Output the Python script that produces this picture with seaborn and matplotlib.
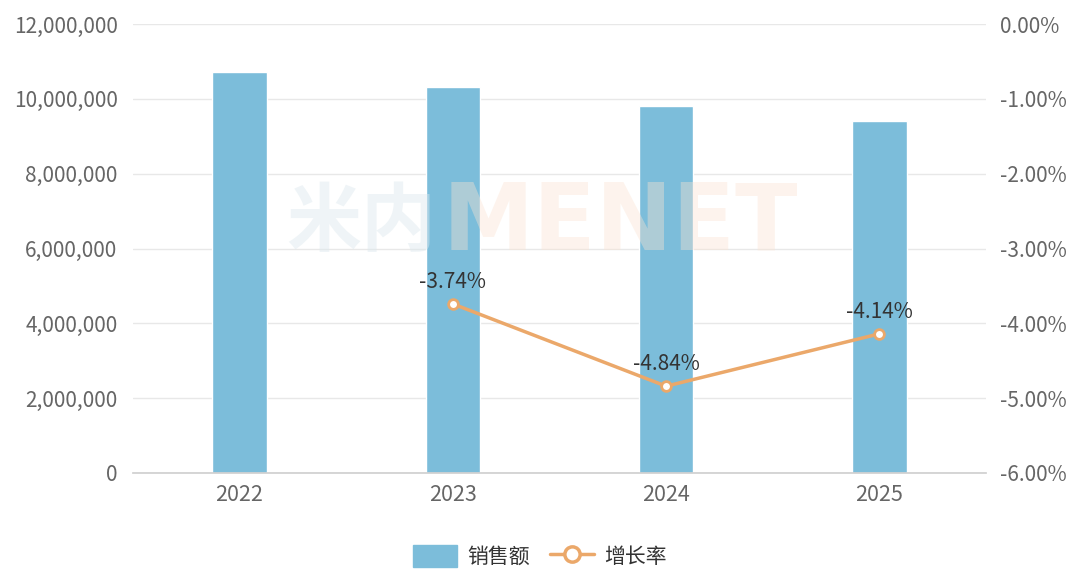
import matplotlib
matplotlib.use("Agg")
import matplotlib.pyplot as plt
import seaborn as sns
import pandas as pd
import numpy as np
from matplotlib.ticker import FuncFormatter, FixedLocator
from matplotlib.lines import Line2D
from matplotlib.patches import Patch

years = ["2022", "2023", "2024", "2025"]
sales = [10720000, 10319000, 9820000, 9413000]
growth_years = ["2023", "2024", "2025"]
growth = [-3.74, -4.84, -4.14]

sns.set_theme(style="white")
plt.rcParams['font.family'] = ['Noto Sans CJK SC', 'DejaVu Sans']

BAR = "#7CBDDA"
LINE = "#EBA86A"
TXT = "#666666"
GRID = "#E8E8E8"

fig = plt.figure(figsize=(10.8, 5.8), dpi=100)
ax = fig.add_axes([0.123, 0.1845, 0.790, 0.7741])

df = pd.DataFrame({"year": years, "sales": sales})
sns.barplot(data=df, x="year", y="sales", color=BAR, saturation=1, width=0.255, ax=ax, zorder=2)
ax.set_xlim(-0.5, 3.5)
ax.set_ylim(0, 12000000)
ax.yaxis.set_major_locator(FixedLocator(np.arange(0, 12000001, 2000000)))
ax.yaxis.set_major_formatter(FuncFormatter(lambda v, p: f"{int(v):,}"))
ax.grid(axis="y", color=GRID, linewidth=1, zorder=0)
ax.set_axisbelow(True)
for s in ["top", "right", "left"]:
    ax.spines[s].set_visible(False)
ax.spines["bottom"].set_color("#D0D0D0")
ax.tick_params(axis="y", length=0, labelsize=15, colors=TXT, pad=11)
ax.tick_params(axis="x", length=0, labelsize=15.5, colors=TXT, pad=8)
ax.set_xlabel("")
ax.set_ylabel("")

ax2 = ax.twinx()
pos = [years.index(y) for y in growth_years]
gdf = pd.DataFrame({"x": pos, "g": growth})
sns.lineplot(data=gdf, x="x", y="g", color=LINE, linewidth=2.5, marker="o",
             markersize=7, markerfacecolor="white", markeredgecolor=LINE,
             markeredgewidth=2, ax=ax2, zorder=4)
ax2.set_ylim(-6, 0)
ax2.yaxis.set_major_locator(FixedLocator(np.arange(-6, 0.01, 1)))
ax2.yaxis.set_major_formatter(FuncFormatter(lambda v, p: f"{v:.2f}%"))
for s in ["top", "right", "left", "bottom"]:
    ax2.spines[s].set_visible(False)
ax2.tick_params(axis="y", length=0, labelsize=15, colors=TXT, pad=10)
ax2.set_xlabel("")
ax2.set_ylabel("")
ax2.set_xlim(-0.5, 3.5)
for x, g in zip(pos, growth):
    ax2.annotate(f"{g:.2f}%", (x, g), xytext=(0, 8), textcoords="offset points",
                 ha="center", va="bottom", fontsize=15, color="#333333", zorder=5)

# watermark
fig.text(0.265, 0.615, "米内", fontsize=54, color="#DCE8EE", alpha=0.45,
         ha="left", va="center", fontweight="bold", zorder=10)
fig.text(0.41, 0.615, "MENET", fontsize=66, color="#FBE3D2", alpha=0.4,
         ha="left", va="center", fontweight="bold", family="DejaVu Sans", zorder=10)

handles = [Patch(facecolor=BAR, edgecolor=BAR, label="销售额"),
           Line2D([0], [0], color=LINE, linewidth=2.5, marker="o", markersize=11,
                  markerfacecolor="white", markeredgecolor=LINE, markeredgewidth=2.5,
                  label="增长率")]
leg = fig.legend(handles=handles, loc="center", bbox_to_anchor=(0.5, 0.04), ncol=2,
                 frameon=False, fontsize=15, handlelength=2.1, handleheight=1.2,
                 columnspacing=1.0, handletextpad=0.5, labelcolor="#333333")

fig.savefig("out.png", dpi=100)
